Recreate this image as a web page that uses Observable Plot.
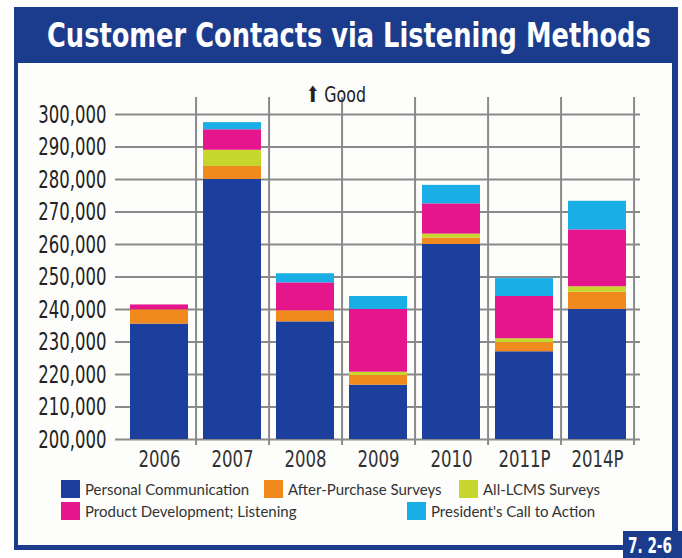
<!DOCTYPE html>
<html><head><meta charset="utf-8">
<script src="https://cdn.jsdelivr.net/npm/d3@7"></script>
<script src="https://cdn.jsdelivr.net/npm/@observablehq/plot@0.6"></script>
<style>
body{margin:0;background:#fff;}
#wrap{position:relative;width:682px;height:558px;overflow:hidden;}
#frame{position:absolute;left:14px;top:7px;width:664px;height:543px;background:#1b3c8c;}
#panel{position:absolute;left:18px;top:63px;width:654px;height:482px;background:#fdfdfb;}
.ov{position:absolute;left:0;top:0;}
.sw{position:absolute;width:19px;height:18px;}
.lt{position:absolute;font-family:Lato,"Noto Sans",sans-serif;font-size:15px;color:#333;line-height:18px;white-space:nowrap;}
#tag{position:absolute;left:623px;top:531px;width:59px;height:27px;background:#1b3c8c;}
</style></head>
<body>
<div id="wrap">
  <div id="frame"></div>
  <div id="panel"></div>
  <div id="tag"></div>
  <svg class="ov" width="682" height="558" id="txt">
    <text id="ttl" transform="translate(47,47)" font-family="DejaVu Sans, sans-serif" font-weight="bold" font-size="33" fill="#fff">Customer Contacts via Listening Methods</text>
    <text id="tg" transform="translate(628,553)" font-family="DejaVu Sans, sans-serif" font-weight="bold" font-size="21" fill="#fff">7. 2-6</text>
  </svg>
  <div id="chart" class="ov"></div>
  <div id="legend"></div>
</div>
<script>
const years = ["2006","2007","2008","2009","2010","2011P","2014P"];
const seriesNames = ["Personal Communication","After-Purchase Surveys","All-LCMS Surveys","Product Development; Listening","President's Call to Action"];
const personal      = [235500, 280000, 236200, 216700, 260000, 227000, 240000];
const afterPurchase = [4400, 4000, 3400, 3000, 2000, 2800, 5300];
const allLcms       = [0, 5000, 0, 1000, 1200, 1200, 1700];
const productDev    = [1500, 6300, 8600, 19300, 9300, 13000, 17500];
const presidents    = [0, 2200, 2800, 4000, 5700, 5500, 8800];
const yTicks = [200000,210000,220000,230000,240000,250000,260000,270000,280000,290000,300000];
const colors = ["#1c3f9e","#f08a1f","#c6d62c","#e5168c","#1aaee6"];
const goodLabel = "\u2B06 Good";

const seriesValues = [personal, afterPurchase, allLcms, productDev, presidents];
const rows = [];
years.forEach((yr, i) => seriesNames.forEach((s, j) => rows.push({year: yr, series: s, value: seriesValues[j][i]})));

const X0 = 122, X1 = 634;
const step = (X1 - X0) / years.length;

const chart = Plot.plot({
  width: 682, height: 558,
  marginLeft: 115, marginRight: 42, marginTop: 114, marginBottom: 119,
  style: {background: "transparent", fontFamily: "'DejaVu Sans',sans-serif", color: "#222", overflow: "visible"},
  x: {domain: years, range: [X0, X1], paddingInner: 0.21, paddingOuter: 0.105, axis: null},
  y: {domain: [200000, 300000], axis: null},
  color: {domain: seriesNames, range: colors},
  marks: [
    Plot.ruleY(yTicks, {stroke: "#8a8a8a", strokeWidth: 2}),
    Plot.ruleX(years, {x: d => d, dx: step / 2, stroke: "#8a8a8a", strokeWidth: 2, insetTop: -17, insetBottom: -6}),
    Plot.barY(rows, {x: "year", y: "value", fill: "series", order: seriesNames, clip: true}),
    Plot.axisY(yTicks, {tickSize: 0, tickPadding: 9, tickFormat: d3.format(","), fontSize: 25, label: null}),
    Plot.axisX(years, {tickSize: 0, tickPadding: 11, fontSize: 23, label: null, fill: "#333"}),
    Plot.text([goodLabel], {frameAnchor: "top", dx: -42, dy: -28, fontSize: 22, fill: "#222"})
  ]
});
document.getElementById("chart").appendChild(chart);

function condense(el, f) {
  const w = el.getComputedTextLength();
  el.setAttribute("textLength", (w * f).toFixed(1));
  el.setAttribute("lengthAdjust", "spacingAndGlyphs");
}
chart.querySelectorAll('g[aria-label="y-axis tick label"] text').forEach(t => condense(t, 0.66));
chart.querySelectorAll('g[aria-label="x-axis tick label"] text').forEach(t => condense(t, 0.72));
chart.querySelectorAll('g[aria-label="text"] text').forEach(t => condense(t, 0.72));

// title scaling
const ttl = document.getElementById("ttl");
const tw = ttl.getComputedTextLength();
ttl.setAttribute("transform", `translate(47,47) scale(${(604 / tw).toFixed(4)},1)`);
const tg = document.getElementById("tg");
tg.setAttribute("transform", `translate(628,553) scale(${(44 / tg.getComputedTextLength()).toFixed(4)},1)`);

// legend
const legendPos = [[61,480],[264,480],[459,480],[61,502],[407,502]];
const lg = document.getElementById("legend");
seriesNames.forEach((s, j) => {
  const [lx, ly] = legendPos[j];
  const sw = document.createElement("div");
  sw.className = "sw"; sw.style.left = lx + "px"; sw.style.top = ly + "px"; sw.style.background = colors[j];
  lg.appendChild(sw);
  const t = document.createElement("div");
  t.className = "lt"; t.style.left = (lx + 24) + "px"; t.style.top = ly + "px"; t.textContent = s;
  lg.appendChild(t);
});
</script>
</body></html>
